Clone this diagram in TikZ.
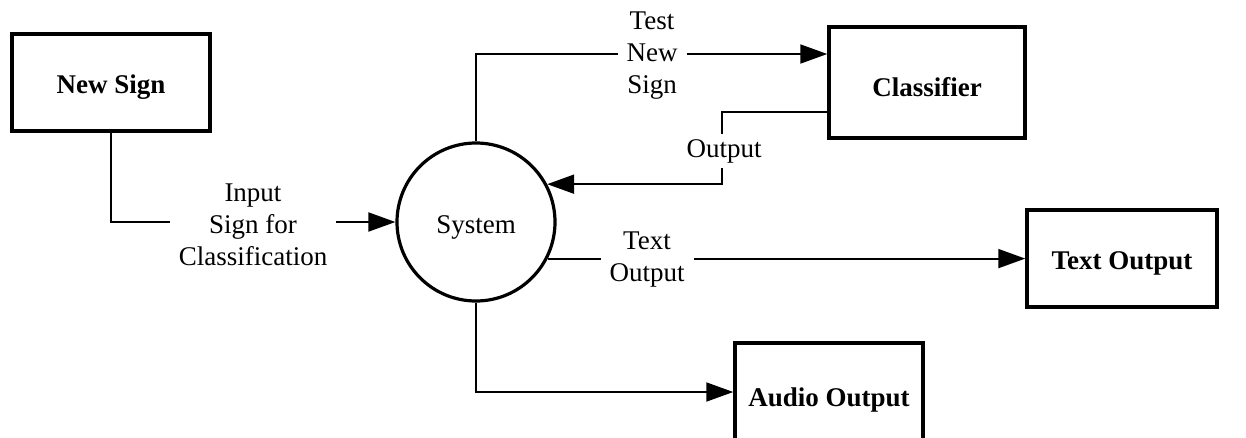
\documentclass[tikz,border=0pt]{standalone}
\usepackage{fontspec}
\setmainfont{Liberation Serif}
\usetikzlibrary{arrows.meta}
\newcommand{\dn}[1]{\raisebox{-5pt}[\height][\depth]{#1}}
\begin{document}
\begin{tikzpicture}[x=1pt,y=-1pt,
  box/.style={draw, line width=3.5pt, rectangle, font=\fontsize{27}{32}\selectfont\bfseries, inner sep=0pt},
  proc/.style={draw, circle, line width=3.2pt, minimum size=158pt, inner sep=0pt, font=\fontsize{27}{32}\selectfont},
  conn/.style={line width=1.9pt, -{Triangle[length=27pt,width=19pt]}},
  lbl/.style={fill=white, align=center, inner xsep=9pt, inner ysep=1pt, font=\fontsize{27}{32}\selectfont}]
\clip (0,0) rectangle (1246,437);
\fill[white] (0,0) rectangle (1246,437);
% nodes
\node[box, minimum width=198pt, minimum height=97pt] (new) at (111,82.5) {\dn{New Sign}};
\node[box, minimum width=196pt, minimum height=111pt] (cls) at (927,82.5) {\dn{Classifier}};
\node[box, minimum width=190pt, minimum height=97pt] (txt) at (1122,258.5) {\dn{Text Output}};
\node[box, minimum width=188pt, minimum height=104pt] (aud) at (829,395) {\dn{Audio Output}};
\node[proc] (sys) at (476,222) {\dn{System}};
% connectors
\draw[conn] (new.south) |- (sys.west);
\draw[conn] (sys.north) |- ([yshift=28.5pt]cls.west);
\draw[conn] ([yshift=-29.5pt]cls.west) -- ++(-105,0) |- (sys.28);
\draw[conn] (sys.-27) -- (sys.-27 -| txt.west);
\draw[conn] (sys.south) |- ([yshift=3pt]aud.west);
% labels
\node[lbl] (l1) at (253,224.5) {Input\\Sign for\\Classification};
\node[lbl] (l2) at (652,56) {Test\\New\\Sign};
\node[lbl, inner xsep=2pt, inner ysep=5pt] (l3) at (724,151) {Output};
\node[lbl] (l4) at (647,259.5) {Text\\Output};
\end{tikzpicture}
\end{document}
